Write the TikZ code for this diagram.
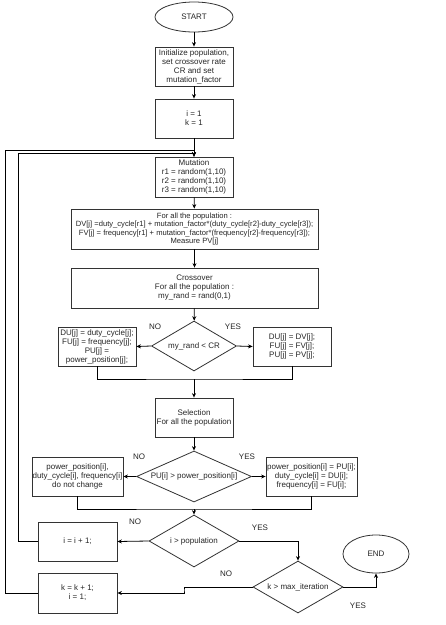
\documentclass[tikz,border=0pt]{standalone}
\usepackage{fontspec}
\setmainfont{Liberation Sans}
\usetikzlibrary{shapes.geometric,arrows.meta}
\begin{document}
\begin{tikzpicture}[x=1pt,y=-1pt,
  every node/.style={text=black!85, font=\fontsize{8}{9}\selectfont},
  box/.style={draw=black!80, line width=0.8pt, rectangle, inner sep=0pt, align=center},
  dia/.style={draw=black!80, line width=0.8pt, diamond, shape aspect=3, inner sep=0pt, align=center},
  oval/.style={draw=black!80, line width=0.8pt, ellipse, inner sep=0pt, align=center},
  conn/.style={draw=black, line width=0.8pt},
  arr/.style={conn, -{Stealth[length=4.5pt,width=4pt]}},
  lbl/.style={inner sep=0pt}]
\path[use as bounding box, fill=white] (0,0) rectangle (446,625);

\node[oval, minimum width=78pt, minimum height=30pt] (start) at (194,17) {START};
\node[box, minimum width=78pt, minimum height=39pt] (init) at (194,66.5) {Initialize population,\\set crossover rate\\CR and set\\mutation\_factor};
\node[box, minimum width=78pt, minimum height=39pt] (ik) at (194,118.5) {i = 1\\k = 1};
\node[box, minimum width=78pt, minimum height=40pt] (mut) at (194,177) {Mutation\\r1 = random(1,10)\\r2 = random(1,10)\\r3 = random(1,10)};
\node[box, minimum width=247pt, minimum height=40pt, font=\fontsize{7.6}{8.4}\selectfont] (form) at (194.5,229) {For all the population :\\DV[j] =duty\_cycle[r1] + mutation\_factor*(duty\_cycle[r2]-duty\_cycle[r3]);\\FV[j] = frequency[r1] + mutation\_factor*(frequency[r2]-frequency[r3]);\\Measure PV[j]};
\node[box, minimum width=247pt, minimum height=40pt] (cross) at (194.5,288) {Crossover\\For all the population :\\my\_rand = rand(0,1)};
\node[dia, minimum width=85pt, minimum height=50pt] (d1) at (194,346) {my\_rand {\textless} CR};
\node[box, minimum width=78pt, minimum height=39pt] (l1) at (97,346.5) {DU[j] = duty\_cycle[j];\\FU[j] = frequency[j];\\PU[j] =\\power\_position[j];};
\node[box, minimum width=78pt, minimum height=39pt] (r1) at (292,346.5) {DU[j] = DV[j];\\FU[j] = FV[j];\\PU[j] = PV[j];};
\coordinate (m1) at (194,379);
\node[box, minimum width=78pt, minimum height=39pt] (sel) at (194,417.5) {Selection\\For all the population};
\node[dia, minimum width=115pt, minimum height=51pt] (d2) at (194,476.5) {PU[i] {\textgreater} power\_position[i]};
\node[box, minimum width=91pt, minimum height=39pt] (l2) at (77.5,476.5) {power\_position[i],\\duty\_cycle[i], frequency[i]\\do not change};
\node[box, minimum width=91pt, minimum height=39pt] (r2) at (311.5,476.5) {power\_position[i] = PU[i];\\duty\_cycle[i] = DU[i];\\frequency[i] = FU[i];};
\coordinate (m2) at (194,509);
\node[dia, minimum width=90pt, minimum height=52pt] (d3) at (194,541) {i {\textgreater} population};
\node[box, minimum width=79pt, minimum height=39pt] (ibox) at (77.5,541.5) {i = i + 1;};
\node[dia, minimum width=90pt, minimum height=52pt] (d4) at (298,587) {k {\textgreater} max\_iteration};
\node[oval, minimum width=66pt, minimum height=38pt] (endn) at (376,554) {END};
\node[box, minimum width=79pt, minimum height=40pt] (kbox) at (77.5,593) {k = k + 1;\\i = 1;};
\coordinate (loopA) at (18,153);
\coordinate (loopB) at (5,150);
\coordinate (jog) at (184,590);

\draw[arr] (start) -- (init);
\draw[arr] (init) -- (ik);
\draw[arr] (ik) -- (mut);
\draw[arr] (mut) -- (form);
\draw[arr] (form) -- (cross);
\draw[arr] (cross) -- (d1);
\draw[arr] (d1.west) -- (l1.east);
\draw[arr] (d1.east) -- (r1.west);
\draw[conn] (l1.south) |- (m1) -| (r1.south);
\draw[arr] (m1) -- (sel.north);
\draw[arr] (sel) -- (d2);
\draw[arr] (d2.west) -- (l2.east);
\draw[arr] (d2.east) -- (r2.west);
\draw[conn] (l2.south) |- (m2) -| (r2.south);
\draw[arr] (m2) -- (d3.north);
\draw[arr] (d3.west) -- (ibox.east);
\draw[arr] (d3.east) -| (d4.north);
\draw[arr] (d4.east) -| (endn.south);
\draw[arr] (d4.west) -| (jog) |- (kbox.east);
\draw[arr] (ibox.west) -| (loopA) -| (mut.north);
\draw[arr] (kbox.west) -| (loopB) -| (mut.north);

\node[lbl] at (155,327) {NO};
\node[lbl] at (233,327) {YES};
\node[lbl] at (139,457) {NO};
\node[lbl] at (247,457) {YES};
\node[lbl] at (135,522) {NO};
\node[lbl] at (260,528) {YES};
\node[lbl] at (226,574) {NO};
\node[lbl] at (358,606) {YES};
\end{tikzpicture}
\end{document}
